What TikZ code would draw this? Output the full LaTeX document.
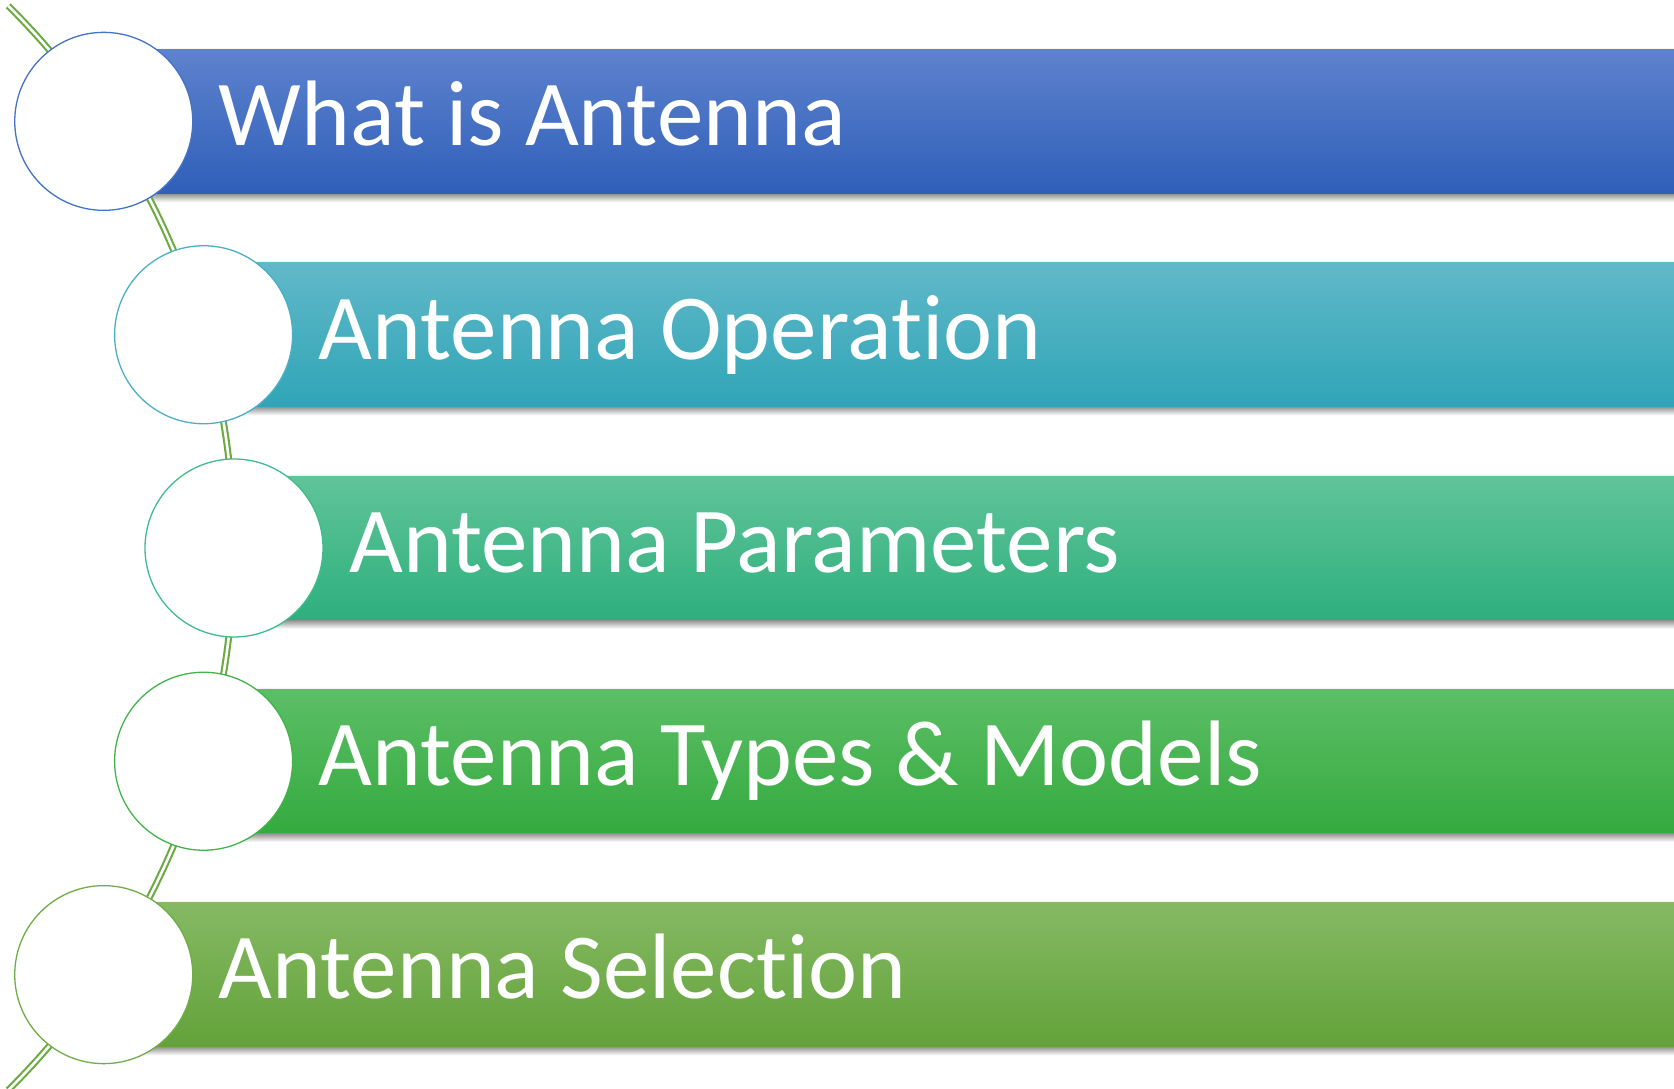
\documentclass[tikz,border=0pt]{standalone}
\usepackage{fontspec}
\setmainfont{Carlito}[Ligatures=NoCommon]
\usepackage{tikz}
\usetikzlibrary{calc}

\definecolor{barAtop}{HTML}{5E82CD}
\definecolor{barAbot}{HTML}{2F5FB9}
\definecolor{barBtop}{HTML}{61B8C8}
\definecolor{barBbot}{HTML}{2FA5B7}
\definecolor{barCtop}{HTML}{60C499}
\definecolor{barCbot}{HTML}{2EAF7D}
\definecolor{barDtop}{HTML}{5CBE66}
\definecolor{barDbot}{HTML}{34AA3E}
\definecolor{barEtop}{HTML}{85B964}
\definecolor{barEbot}{HTML}{63A239}
\definecolor{ringA}{HTML}{4472C4}
\definecolor{ringB}{HTML}{4BAFC5}
\definecolor{ringC}{HTML}{40BC8C}
\definecolor{ringD}{HTML}{43B34B}
\definecolor{ringE}{HTML}{70AD47}
\definecolor{thread}{HTML}{6AAB40}

\begin{document}
\begin{tikzpicture}[x=1pt,y=1pt,
  bead/.style={circle, fill=white, line width=1.3pt, minimum size=178pt, inner sep=0pt},
  topic/.style={anchor=base west, inner sep=0pt, text=white, font=\fontsize{93}{110}\selectfont},
  dropshade/.style={top color=black!45, bottom color=white},
  edgeshade/.style={top color=white, bottom color=black!12},
  wire/.style={draw=thread, double=white, line width=2.1pt, double distance=2.6pt}]
  \useasboundingbox[fill=white] (0,0) rectangle (1674,1089);

  % shadows under the bars
  \shade[dropshade] (104,886.7) rectangle (1674,895.7);
  \shade[dropshade] (204,673.7) rectangle (1674,682.7);
  \shade[dropshade] (235,460.3) rectangle (1674,469.3);
  \shade[dropshade] (204,247) rectangle (1674,256);
  \shade[dropshade] (104,33.7) rectangle (1674,42.7);
  \shade[edgeshade] (104,1039) rectangle (1674,1042);
  \shade[edgeshade] (204,826) rectangle (1674,829);
  \shade[edgeshade] (235,612.7) rectangle (1674,615.7);
  \shade[edgeshade] (204,399.3) rectangle (1674,402.3);
  \shade[edgeshade] (104,186) rectangle (1674,189);

  % bars
  \shade[top color=barAtop, bottom color=barAbot] (104,895.7) rectangle (1674,1039);
  \shade[top color=barBtop, bottom color=barBbot] (204,682.7) rectangle (1674,826);
  \shade[top color=barCtop, bottom color=barCbot] (235,469.3) rectangle (1674,612.7);
  \shade[top color=barDtop, bottom color=barDbot] (204,256) rectangle (1674,399.3);
  \shade[top color=barEtop, bottom color=barEbot] (104,42.7) rectangle (1674,186);

  % the thread through the beads
  \coordinate (hub) at (-530,541);
  \coordinate (top) at ($(hub)+(45.2:764)$);
  \draw[wire] (top) arc[start angle=45.2, end angle=-45.2, radius=764];

  \node[bead, draw=ringA] (c1) at ($(hub)+(33.95:764)$) {};
  \node[bead, draw=ringB] (c2) at ($(hub)+(16.21:764)$) {};
  \node[bead, draw=ringC] (c3) at ($(hub)+(0:764)$) {};
  \node[bead, draw=ringD] (c4) at ($(hub)+(-16.21:764)$) {};
  \node[bead, draw=ringE] (c5) at ($(hub)+(-33.95:764)$) {};

  \node[topic] (t1) at ($(c1)+(115,-24.3)$) {What is Antenna};
  \node[topic] (t2) at ($(c2)+(115,-24.3)$) {Antenna Operation};
  \node[topic] (t3) at ($(c3)+(115,-24.3)$) {Antenna Parameters};
  \node[topic] (t4) at ($(c4)+(115,-24.3)$) {Antenna Types \& Models};
  \node[topic] (t5) at ($(c5)+(115,-24.3)$) {Antenna Selection};
\end{tikzpicture}
\end{document}
